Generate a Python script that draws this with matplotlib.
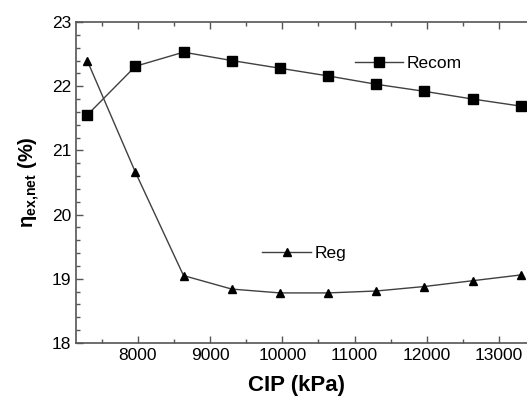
import matplotlib.pyplot as plt
from matplotlib.ticker import MultipleLocator

# CIP values (kPa)
cip = [7300, 7967, 8633, 9300, 9967, 10633, 11300, 11967, 12633, 13300]
# net exergy efficiency (%)
recom = [21.55, 22.31, 22.53, 22.40, 22.28, 22.16, 22.03, 21.92, 21.80, 21.69]
reg = [22.40, 20.66, 19.05, 18.84, 18.78, 18.78, 18.81, 18.88, 18.97, 19.06]

plt.rcParams['font.family'] = ['Liberation Sans', 'DejaVu Sans']
plt.rcParams['mathtext.fontset'] = 'custom'
plt.rcParams['mathtext.bf'] = 'Liberation Sans:bold'
plt.rcParams['mathtext.rm'] = 'Liberation Sans'

fig = plt.figure(figsize=(5.27, 4.01), dpi=100)
ax = fig.add_axes([76 / 527, 1 - 343 / 401, 1 - 76 / 527, (343 - 22) / 401])

line_col = '#404040'
l1, = ax.plot(cip, recom, color=line_col, lw=1.0, marker='s', ms=6.5,
              mfc='black', mec='black', label='Recom')
l2, = ax.plot(cip, reg, color=line_col, lw=1.0, marker='^', ms=6,
              mfc='black', mec='black', label='Reg')

ax.set_xlim(7145, 13386)
ax.set_ylim(18, 23)
ax.xaxis.set_major_locator(MultipleLocator(1000))
ax.xaxis.set_minor_locator(MultipleLocator(500))
ax.yaxis.set_major_locator(MultipleLocator(1))
ax.yaxis.set_minor_locator(MultipleLocator(0.2))
ax.tick_params(which='both', direction='in', top=True, right=False,
               color='#555555', labelsize=12.5, width=1)
ax.tick_params(which='major', length=5)
ax.tick_params(which='minor', length=3)
ax.spines['right'].set_visible(False)
for s in ['left', 'top', 'bottom']:
    ax.spines[s].set_color('#555555')
    ax.spines[s].set_linewidth(1.2)

ax.set_xlabel('CIP (kPa)', fontsize=16, fontweight='bold')
ax.xaxis.set_label_coords((297 - 76) / 451, -0.1)
ax.set_ylabel(r'$\mathbf{\eta}_{\mathbf{ex{,}net}}$ (%)', fontsize=14.5, fontweight='bold')
ax.yaxis.set_label_coords(-0.075, 0.5)

leg1 = ax.legend(handles=[l1], loc='center left', bbox_to_anchor=(0.618, 0.872),
                 frameon=False, fontsize=12.5, handlelength=2.8, handletextpad=0.2,
                 borderpad=0, borderaxespad=0)
ax.add_artist(leg1)
ax.legend(handles=[l2], loc='center left', bbox_to_anchor=(0.413, 0.28),
          frameon=False, fontsize=12.5, handlelength=2.8, handletextpad=0.2,
          borderpad=0, borderaxespad=0)

fig.savefig('out.png', dpi=100)
